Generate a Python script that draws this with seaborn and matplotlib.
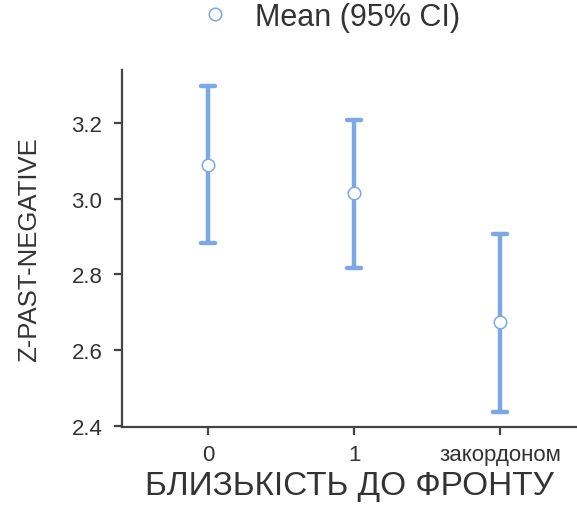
import numpy as np
import pandas as pd
import matplotlib
matplotlib.use("Agg")
import matplotlib.pyplot as plt
import seaborn as sns

# Data
categories = ["0", "1", "закордоном"]
means = [3.089, 3.014, 2.673]
ci_lower = [2.882, 2.816, 2.437]
ci_upper = [3.298, 3.209, 2.907]
yticks = [2.4, 2.6, 2.8, 3.0, 3.2]

sns.set_style("ticks")
plt.rcParams["font.family"] = ["Liberation Sans", "DejaVu Sans"]

# Long table: median of (lower, mean, upper) = mean; 100% interval = CI
rows = []
for c, lo, m, hi in zip(categories, ci_lower, means, ci_upper):
    for v in (lo, m, hi):
        rows.append({"cat": c, "val": v})
df = pd.DataFrame(rows)

blue = "#7fa7e2"
txt = "#333333"

fig = plt.figure(figsize=(5.77, 5.06), dpi=100)
W, H = 577, 506
ax = fig.add_axes([121.7 / W, (H - 428) / H, (577 - 121.7) / W, (428 - 71) / H])

sns.pointplot(data=df, x="cat", y="val", order=categories,
              estimator="median", errorbar=("pi", 100),
              color=blue, linestyle="none", marker="o", markersize=9,
              markerfacecolor="white", markeredgecolor=blue, markeredgewidth=1.1,
              capsize=0.1, err_kws={"linewidth": 3.2, "color": blue},
              label="Mean (95% CI)", ax=ax)

# put the hollow-white markers above the error bars
for ln in ax.lines:
    if ln.get_marker() == "o":
        ln.set_zorder(10)
        ln.set_markerfacecolor("white")

ax.set_xlim(-0.591, 2.527)
ax.set_ylim(2.3966, 3.340)
ax.set_yticks(yticks)
ax.set_yticklabels([f"{t:.1f}" for t in yticks])

for s in ["top", "right"]:
    ax.spines[s].set_visible(False)
for s in ["left", "bottom"]:
    ax.spines[s].set_color("#444444")
    ax.spines[s].set_linewidth(1.6)
ax.tick_params(axis="both", colors="#444444", length=6, width=1.6,
               labelsize=16, labelcolor=txt)
ax.tick_params(axis="y", pad=8)
ax.tick_params(axis="x", pad=6)

ax.set_xlabel("БЛИЗЬКІСТЬ ДО ФРОНТУ", fontsize=24, color=txt, labelpad=4)
ax.set_ylabel("Z-PAST-NEGATIVE", fontsize=18.5, color=txt, labelpad=22)

if ax.get_legend() is not None:
    ax.get_legend().remove()
handles, labels = ax.get_legend_handles_labels()
fig.legend(handles[:1], labels[:1], loc="center", bbox_to_anchor=(330 / W, 1 - 18 / H),
           frameon=False, fontsize=22, labelcolor=txt, markerscale=1.0,
           handletextpad=0.8, handlelength=1.0)

fig.savefig("out.png", dpi=100)
